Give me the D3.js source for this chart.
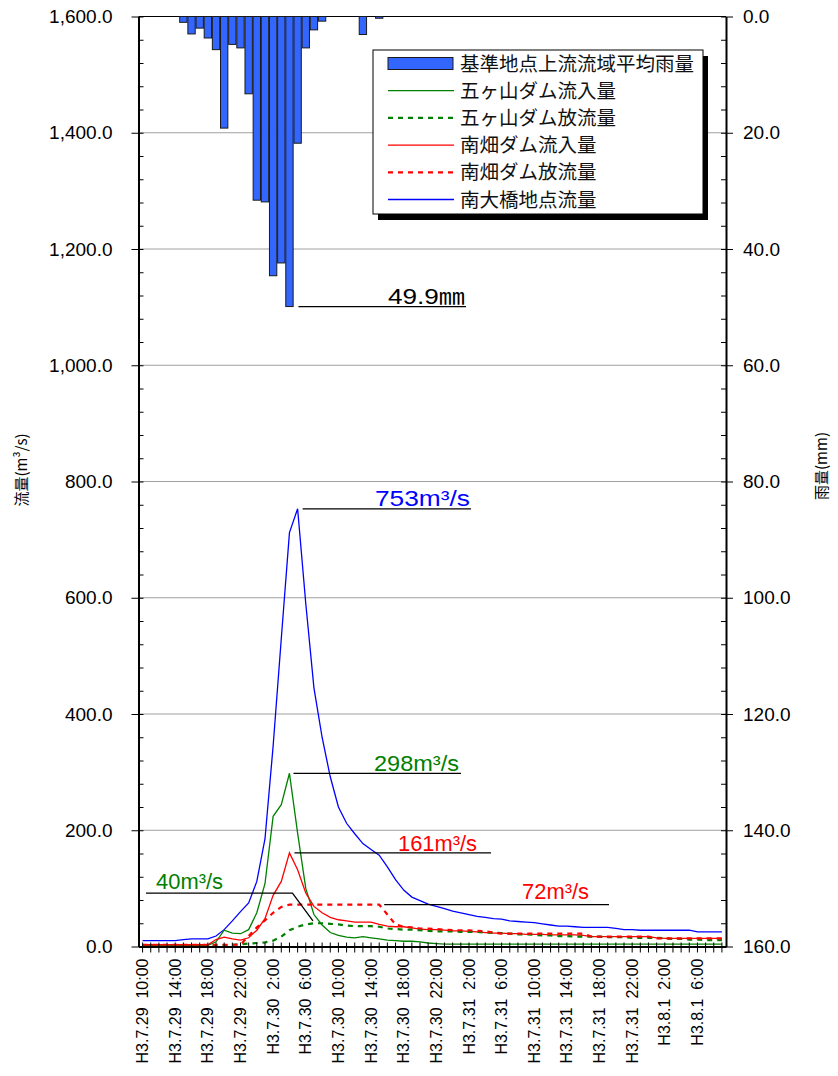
<!DOCTYPE html>
<html>
<head>
<meta charset="utf-8">
<script src="https://d3js.org/d3.v7.min.js"></script>
<style>
  body { margin: 0; background: #fff; }
  text { font-family: "Liberation Sans", Arial, "Noto Sans CJK JP", sans-serif; }
  .jp { font-family: "Noto Sans CJK JP", sans-serif; }
</style>
</head>
<body>
<svg id="chart"></svg>
<script>
// hourly steps, H3.7.29 10:00 -> H3.8.1 9:00
const hours = d3.range(72);

// one label every 4 hours
const tickLabels = [
  "H3.7.29  10:00", "H3.7.29  14:00", "H3.7.29  18:00", "H3.7.29  22:00",
  "H3.7.30  2:00", "H3.7.30  6:00", "H3.7.30  10:00", "H3.7.30  14:00",
  "H3.7.30  18:00", "H3.7.30  22:00", "H3.7.31  2:00", "H3.7.31  6:00",
  "H3.7.31  10:00", "H3.7.31  14:00", "H3.7.31  18:00", "H3.7.31  22:00",
  "H3.8.1  2:00", "H3.8.1  6:00"
];

// 基準地点上流流域平均雨量 (mm)
const rain = [
  0, 0, 0, 0, 0, 1.0, 3.0, 2.0, 3.7, 5.7, 19.2, 4.8,
  5.4, 13.3, 31.6, 31.9, 44.6, 42.4, 49.9, 21.8, 5.4, 2.3, 0.8, 0,
  0, 0, 0, 3.1, 0, 0.3, 0, 0, 0, 0, 0, 0,
  0, 0, 0, 0, 0, 0, 0, 0, 0, 0, 0, 0,
  0, 0, 0, 0, 0, 0, 0, 0, 0, 0, 0, 0,
  0, 0, 0, 0, 0, 0, 0, 0, 0, 0, 0, 0
];

// 五ヶ山ダム流入量
const gokaIn = [
  2, 2, 2, 2, 2, 2, 2, 2, 2, 8, 28, 23,
  22, 29, 58, 108, 224, 244, 298, 195, 100, 55, 37, 24,
  19, 16, 15, 17, 15, 13, 11, 10, 9, 9, 8, 6,
  5, 4, 4, 4, 4, 4, 4, 4, 4, 4, 4, 4,
  4, 4, 4, 4, 4, 4, 4, 4, 4, 4, 4, 4,
  4, 4, 4, 4, 4, 4, 4, 4, 4, 4, 4, 4
];

// 五ヶ山ダム放流量
const gokaOut = [
  1, 1, 1, 1, 1, 1, 1, 1, 1, 1, 2, 3,
  4, 5, 6, 7, 10, 17, 28, 34, 38, 40, 40, 39,
  38, 36, 35, 35, 35, 34, 31, 30, 29, 29, 28, 27,
  26, 26, 26, 25, 25, 25, 24, 24, 23, 22, 21, 21,
  20, 19, 19, 18, 18, 17, 17, 17, 17, 16, 16, 16,
  15, 15, 15, 15, 14, 13, 13, 12, 12, 11, 11, 11
];

// 南畑ダム流入量
const minamiIn = [
  3, 3, 3, 3, 3, 3, 3, 3, 3, 12, 16, 13,
  11, 15, 28, 48, 88, 112, 161, 132, 92, 69, 58, 50,
  46, 44, 42, 42, 42, 38, 35, 34, 34, 32, 30, 29,
  29, 28, 27, 27, 26, 25, 24, 23, 23, 22, 22, 21,
  21, 21, 20, 20, 20, 20, 19, 17, 17, 17, 17, 17,
  17, 17, 17, 15, 14, 14, 14, 14, 14, 14, 14, 14
];

// 南畑ダム放流量
const minamiOut = [
  3, 3, 3, 3, 3, 3, 3, 3, 3, 3, 3, 3,
  3, 18, 33, 45, 58, 68, 72, 72, 72, 72, 72, 72,
  72, 72, 72, 72, 72, 72, 55, 38, 34, 33, 31, 31,
  30, 29, 28, 28, 28, 27, 26, 24, 22, 22, 22, 22,
  22, 22, 22, 22, 22, 22, 22, 17, 17, 17, 17, 17,
  17, 17, 17, 14, 14, 14, 14, 14, 14, 14, 14, 14
];

// 南大橋地点流量
const ohashi = [
  10, 10, 10, 10, 10, 12, 13, 13, 13, 18, 29, 44,
  60, 75, 112, 185, 345, 530, 712, 753, 590, 445, 360, 292,
  240, 212, 194, 177, 167, 157, 137, 115, 97, 85, 79, 73,
  69, 65, 61, 58, 55, 52, 50, 48, 47, 44, 43, 42,
  41, 39, 37, 35, 35, 34, 33, 33, 33, 33, 31, 29,
  29, 28, 28, 28, 28, 28, 28, 28, 25, 25, 25, 25
];

const plotLeft = 138.5, plotRight = 726, plotTop = 16.5, plotBottom = 946.5;

const svg = d3.select("#chart")
    .attr("width", 838)
    .attr("height", 1076);

const x = d3.scaleBand()
    .domain(hours)
    .range([plotLeft, plotRight])
    .paddingInner(0.1)
    .paddingOuter(0.05);
const xc = i => x(i) + x.bandwidth() / 2;

const y = d3.scaleLinear().domain([0, 1600]).range([plotBottom, plotTop]);
const yRain = d3.scaleLinear().domain([0, 160]).range([plotTop, plotBottom]);

// grid lines
svg.append("g")
  .selectAll("line")
  .data(d3.range(200, 1600, 200))
  .join("line")
    .attr("x1", plotLeft).attr("x2", plotRight)
    .attr("y1", d => y(d)).attr("y2", d => y(d))
    .attr("stroke", "#a0a0a0")
    .attr("stroke-width", 1);

// top frame
svg.append("line")
    .attr("x1", plotLeft).attr("x2", plotRight)
    .attr("y1", plotTop).attr("y2", plotTop)
    .attr("stroke", "#000");

// rain bars hanging from the top
svg.append("g")
  .selectAll("rect")
  .data(rain.map((v, i) => ({ i, v })).filter(d => d.v > 0))
  .join("rect")
    .attr("x", d => x(d.i))
    .attr("y", yRain(0))
    .attr("width", x.bandwidth())
    .attr("height", d => yRain(d.v) - yRain(0))
    .attr("fill", "#3366ff")
    .attr("stroke", "#1a1a1a")
    .attr("stroke-width", 1);

const line = d3.line()
    .x((d, i) => xc(i))
    .y(d => y(d));

const series = [
  { data: ohashi, color: "#0000ff", dash: null, w: 1.3 },
  { data: gokaIn, color: "#008000", dash: null, w: 1.3 },
  { data: minamiIn, color: "#ff0000", dash: null, w: 1.3 },
  { data: gokaOut, color: "#008000", dash: "5,5", w: 2.2 },
  { data: minamiOut, color: "#ff0000", dash: "5,5", w: 2.2 }
];

svg.append("g")
  .selectAll("path")
  .data(series)
  .join("path")
    .attr("d", d => line(d.data))
    .attr("fill", "none")
    .attr("stroke", d => d.color)
    .attr("stroke-width", d => d.w)
    .attr("stroke-dasharray", d => d.dash);

// left axis (flow)
const gLeft = svg.append("g")
    .attr("transform", `translate(${plotLeft},0)`)
    .call(d3.axisLeft(y)
        .tickValues(d3.range(0, 1601, 200))
        .tickSize(7)
        .tickSizeOuter(0)
        .tickPadding(19)
        .tickFormat(d3.format(",.1f")));
gLeft.select(".domain").attr("stroke-width", 2);
gLeft.selectAll("text").attr("font-size", 19).attr("font-family", "Liberation Sans, Arial");

svg.append("g")
    .attr("transform", `translate(${plotLeft},0)`)
    .call(d3.axisRight(y).tickValues(d3.range(0, 1601, 40)).tickSize(5).tickFormat(""))
    .call(g => g.select(".domain").remove());

// right axis (rain)
const gRight = svg.append("g")
    .attr("transform", `translate(${plotRight},0)`)
    .call(d3.axisRight(yRain)
        .tickValues(d3.range(0, 161, 20))
        .tickSize(7)
        .tickSizeOuter(0)
        .tickPadding(10)
        .tickFormat(d3.format(".1f")));
gRight.select(".domain").attr("stroke-width", 2);
gRight.selectAll("text").attr("font-size", 19).attr("font-family", "Liberation Sans, Arial");

svg.append("g")
    .attr("transform", `translate(${plotRight},0)`)
    .call(d3.axisLeft(yRain).tickValues(d3.range(0, 161, 4)).tickSize(5).tickFormat(""))
    .call(g => g.select(".domain").remove());

// bottom axis, tick every hour, label every 4
const gBottom = svg.append("g")
    .attr("transform", `translate(0,${plotBottom})`)
    .call(d3.axisBottom(x)
        .tickValues(hours)
        .tickSize(6)
        .tickSizeOuter(0)
        .tickFormat(i => i % 4 === 0 ? tickLabels[i / 4] : ""));
gBottom.select(".domain").attr("stroke-width", 2);
gBottom.selectAll(".tick line").attr("y1", -4);
gBottom.selectAll("text")
    .attr("font-size", 16)
    .attr("font-family", "Liberation Sans, Arial")
    .style("white-space", "pre")
    .attr("transform", "rotate(-90)")
    .attr("text-anchor", "end")
    .attr("x", -12)
    .attr("y", 0)
    .attr("dy", "0.35em");

// axis titles
svg.append("text")
    .attr("class", "jp")
    .attr("transform", "translate(22,470) rotate(-90)")
    .attr("text-anchor", "middle")
    .attr("dy", "0.35em")
    .attr("font-size", 15)
    .text("流量(m³/s)");

svg.append("text")
    .attr("class", "jp")
    .attr("transform", "translate(822,466) rotate(-90)")
    .attr("text-anchor", "middle")
    .attr("dy", "0.35em")
    .attr("font-size", 15)
    .text("雨量(mm)");

// legend
const legend = svg.append("g").attr("transform", "translate(373,50)");
legend.append("rect")
    .attr("x", 5).attr("y", 6)
    .attr("width", 330).attr("height", 164)
    .attr("fill", "#000");
legend.append("rect")
    .attr("width", 330).attr("height", 164)
    .attr("fill", "#fff")
    .attr("stroke", "#000");

const legendItems = [
  { name: "基準地点上流流域平均雨量", type: "bar" },
  { name: "五ヶ山ダム流入量", color: "#008000", dash: null, w: 1.3 },
  { name: "五ヶ山ダム放流量", color: "#008000", dash: "5,5", w: 2.2 },
  { name: "南畑ダム流入量", color: "#ff0000", dash: null, w: 1.3 },
  { name: "南畑ダム放流量", color: "#ff0000", dash: "5,5", w: 2.2 },
  { name: "南大橋地点流量", color: "#0000ff", dash: null, w: 1.3 }
];

const item = legend.selectAll("g.item")
  .data(legendItems)
  .join("g")
    .attr("class", "item")
    .attr("transform", (d, i) => `translate(0,${13.5 + i * 27.2})`);

item.filter(d => d.type === "bar")
  .append("rect")
    .attr("x", 15).attr("y", -6)
    .attr("width", 65).attr("height", 12)
    .attr("fill", "#3366ff")
    .attr("stroke", "#1a1a1a");

item.filter(d => d.type !== "bar")
  .append("line")
    .attr("x1", 15).attr("x2", 81)
    .attr("stroke", d => d.color)
    .attr("stroke-width", d => d.w)
    .attr("stroke-dasharray", d => d.dash);

item.append("text")
    .attr("class", "jp")
    .attr("x", 87)
    .attr("dy", "0.36em")
    .attr("font-size", 19.5)
    .attr("fill", "#111")
    .text(d => d.name);

// peak call-outs
const note = (txt, color, x0, base, len) => svg.append("text")
    .attr("x", x0).attr("y", base)
    .attr("font-size", 22)
    .attr("fill", color)
    .attr("textLength", len)
    .attr("lengthAdjust", "spacingAndGlyphs")
    .text(txt);

const hline = (x1, x2, yy) => svg.append("line")
    .attr("x1", x1).attr("x2", x2)
    .attr("y1", yy).attr("y2", yy)
    .attr("stroke", "#000")
    .attr("stroke-width", 1.3);

hline(xc(18) + 9, 466, yRain(49.9));
note("49.9㎜", "#000", 388, yRain(49.9) - 3, 77);

hline(xc(19) + 5, 471, y(753));
note("753m³/s", "#0000ff", 375, y(753) - 3, 95);

hline(xc(18) + 4, 461, y(298));
note("298m³/s", "#008000", 374, y(298) - 2, 85);

hline(xc(18) + 5, 491, y(161));
note("161m³/s", "#ff0000", 398, y(161) - 2, 79);

hline(xc(29) + 5, 609, y(72));
note("72m³/s", "#ff0000", 522, y(72) - 6, 67);

// 40 m3/s leader points down to the Gokayama release
svg.append("path")
    .attr("d", d3.line()([[146, y(92)], [xc(18) + 3, y(92)], [xc(21) - 1, y(44)]]))
    .attr("fill", "none")
    .attr("stroke", "#000")
    .attr("stroke-width", 1.3);
note("40m³/s", "#008000", 156, y(92) - 4, 67);
</script>
</body>
</html>
